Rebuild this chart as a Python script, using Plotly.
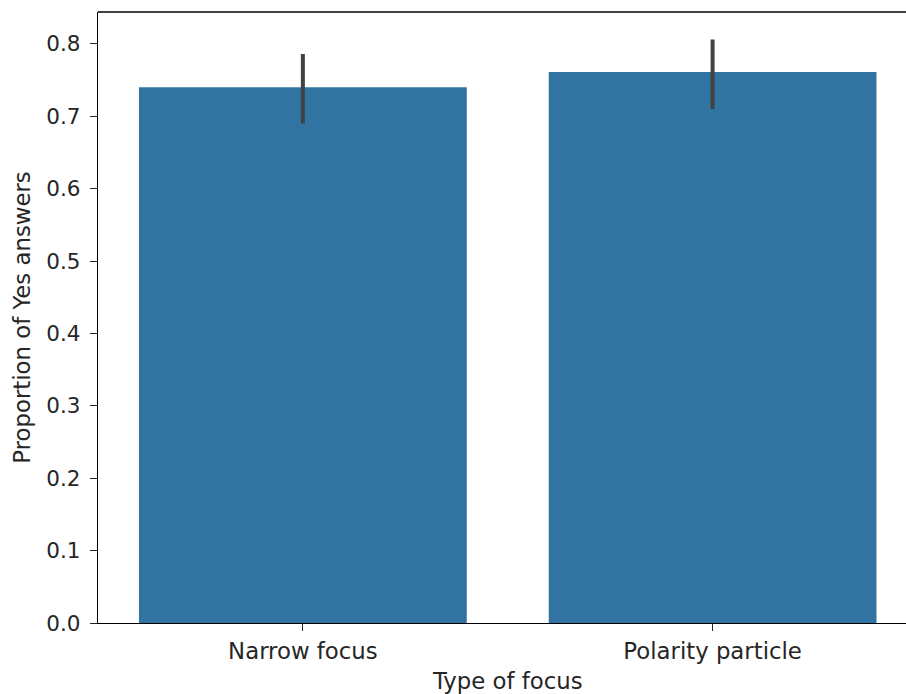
import plotly.graph_objects as go

# Proportion of "Yes" answers by focus type, with 95% CI bounds
categories = ["Narrow focus", "Polarity particle"]
proportions = [0.740, 0.761]
ci_low = [0.690, 0.710]
ci_high = [0.786, 0.806]
y_ticks = [0.0, 0.1, 0.2, 0.3, 0.4, 0.5, 0.6, 0.7, 0.8]

err_plus = [h - p for h, p in zip(ci_high, proportions)]
err_minus = [p - l for p, l in zip(proportions, ci_low)]

FS_NUM = 21.5
FS_TXT = 22.8
font = dict(family="DejaVu Sans", size=FS_NUM, color="#262626")

fig = go.Figure()
fig.add_trace(go.Bar(
    x=list(range(len(categories))),
    y=proportions,
    width=0.8,
    marker=dict(color="#3274a1", line=dict(width=0)),
    error_y=dict(type="data", array=err_plus, arrayminus=err_minus,
                 symmetric=False, color="#424242", thickness=4, width=0),
    showlegend=False,
))

fig.update_layout(
    width=906, height=694,
    margin=dict(l=98, r=0, t=11.5, b=71),
    paper_bgcolor="white", plot_bgcolor="white",
    font=font,
    bargap=0.2,
)
fig.update_xaxes(
    range=[-0.5, 1.472],
    tickmode="array", tickvals=list(range(len(categories))), ticktext=categories,
    ticks="outside", ticklen=7, tickwidth=1.3, tickcolor="#262626",
    tickfont=dict(size=FS_TXT),
    showline=True, linecolor="black", linewidth=1.3,
    showgrid=False, zeroline=False,
)
fig.update_yaxes(
    range=[0, 0.844],
    tickmode="array", tickvals=y_ticks, ticktext=[f"{v:.1f}" for v in y_ticks],
    ticks="outside", ticklen=7, tickwidth=1.3, tickcolor="#262626",
    tickfont=dict(size=FS_NUM), ticklabelstandoff=5,
    showline=True, linecolor="black", linewidth=1.3,
    showgrid=False, zeroline=False,
    title=dict(text="Proportion of Yes answers", standoff=9, font=dict(size=FS_TXT)),
)
# x-axis title, centred between the category slots
fig.add_annotation(
    text="Type of focus", xref="paper", yref="paper",
    x=0.5068, y=-0.071, xanchor="center", yanchor="top",
    showarrow=False, font=dict(size=FS_TXT),
)
# top spine
fig.add_shape(type="line", xref="paper", yref="paper", x0=0, x1=1, y0=1, y1=1,
              line=dict(color="black", width=1.3))

fig.write_html("out.html")
